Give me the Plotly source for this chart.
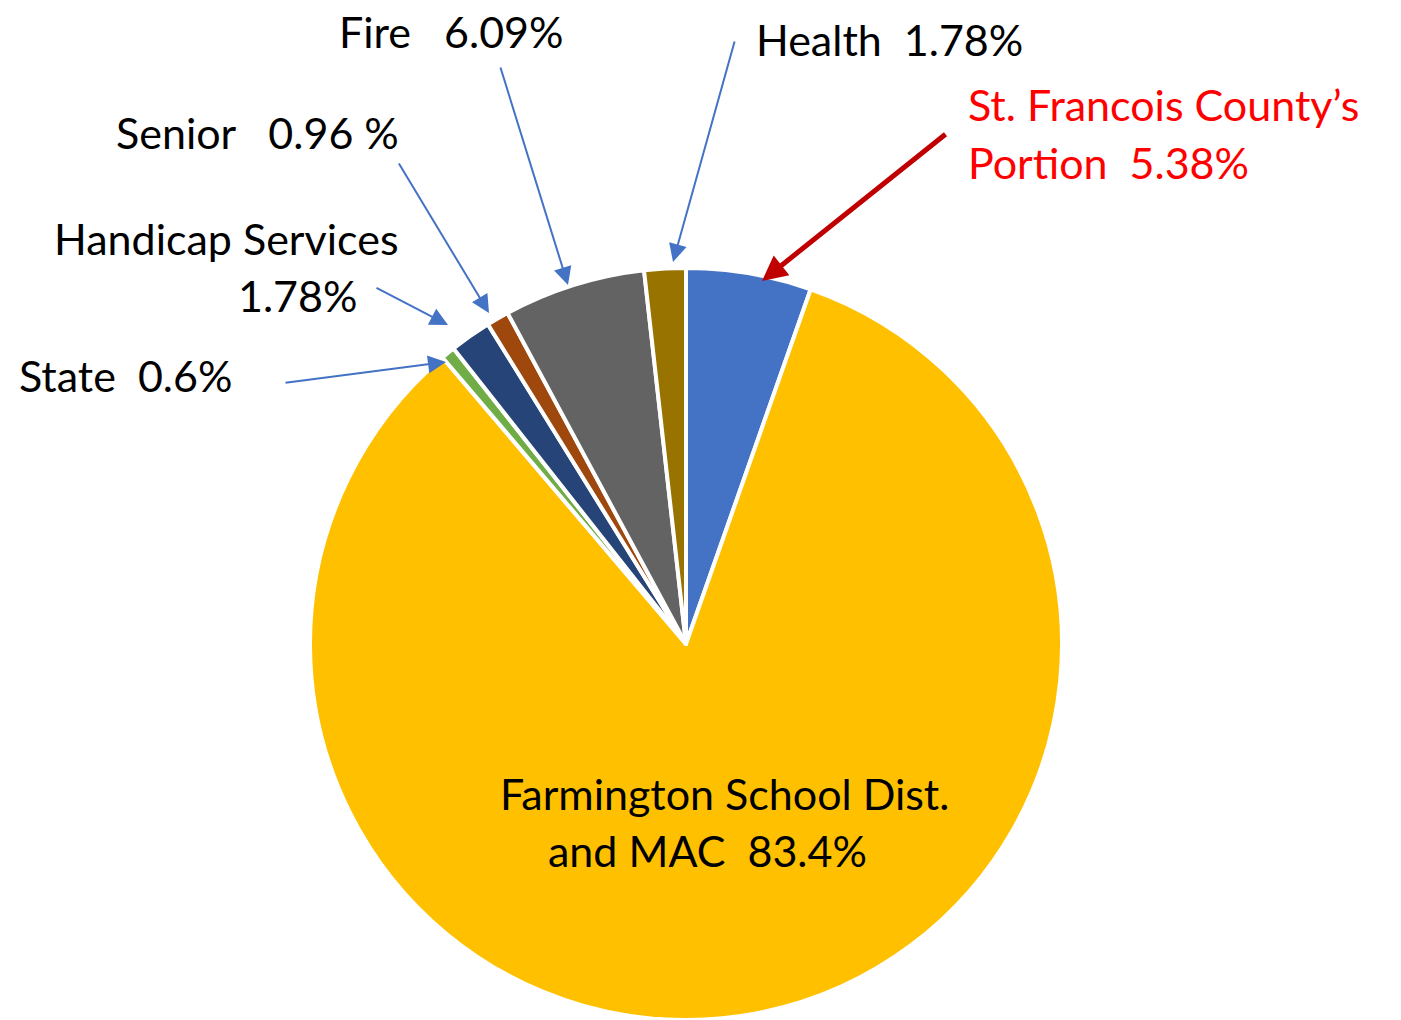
import plotly.graph_objects as go

W, H = 1401, 1020

labels = ["St. Francois County's Portion", "Farmington School Dist. and MAC", "State",
          "Handicap Services", "Senior", "Fire", "Health"]
values = [5.38, 83.4, 0.6, 1.78, 0.96, 6.09, 1.78]
colors = ["#4472C4", "#FFC000", "#70AD47", "#264478", "#9E480E", "#636363", "#997300"]

def px(x):
    return x / W

def py(y):
    return 1 - y / H

cx, cy, r = 686, 645, 377

fig = go.Figure(go.Pie(
    labels=labels, values=values, sort=False, direction="clockwise", rotation=0,
    marker=dict(colors=colors, line=dict(color="white", width=4)),
    textinfo="none", hoverinfo="label+value",
    domain=dict(x=[px(cx - r), px(cx + r)], y=[max(0, py(cy + r)), py(cy - r)]),
))

FONT = "Lato"
FS = 43
anns = []

def text(t, x, y, xanchor="left", color="black"):
    anns.append(dict(text=t, x=px(x), y=py(y), xref="paper", yref="paper",
                     xanchor=xanchor, yanchor="middle", showarrow=False,
                     borderpad=0, font=dict(family=FONT, size=FS, color=color)))

def arrow(x0, y0, x1, y1, color="#4472C4", width=2, size=1.8):
    anns.append(dict(text="", x=px(x1), y=py(y1), xref="paper", yref="paper",
                     ax=x0 - x1, ay=y0 - y1, axref="pixel", ayref="pixel",
                     showarrow=True, arrowhead=2, arrowsize=size, arrowwidth=width,
                     arrowcolor=color))

text("Fire   6.09%", 338, 31)
text("Health  1.78%", 755, 40)
text("St. Francois County\u2019s", 967, 105, color="#FF0000")
text("Portion  5.38%", 967, 162, color="#FF0000")
text("Senior   0.96 %", 400, 133, xanchor="right")
text("Handicap Services", 400, 238, xanchor="right")
text("1.78%", 358, 295, xanchor="right")
text("State  0.6%", 18, 375)
text("Farmington School Dist.", 724, 793, xanchor="center")
text("and MAC  83.4%", 707, 850, xanchor="center")

arrow(500, 66, 568, 285)
arrow(735, 40, 673, 262)
arrow(398, 162, 489, 313)
arrow(375, 287, 448, 325)
arrow(284, 383, 446, 362)
arrow(947, 133, 762, 281, color="#C00000", width=5, size=1.0)

fig.update_layout(width=W, height=H, margin=dict(l=0, r=0, t=0, b=0),
                  paper_bgcolor="white", plot_bgcolor="white", showlegend=False,
                  annotations=anns)

fig.write_html("out.html", config={"displayModeBar": False},
               post_script="document.body.style.margin='0';document.body.style.overflow='hidden';")
